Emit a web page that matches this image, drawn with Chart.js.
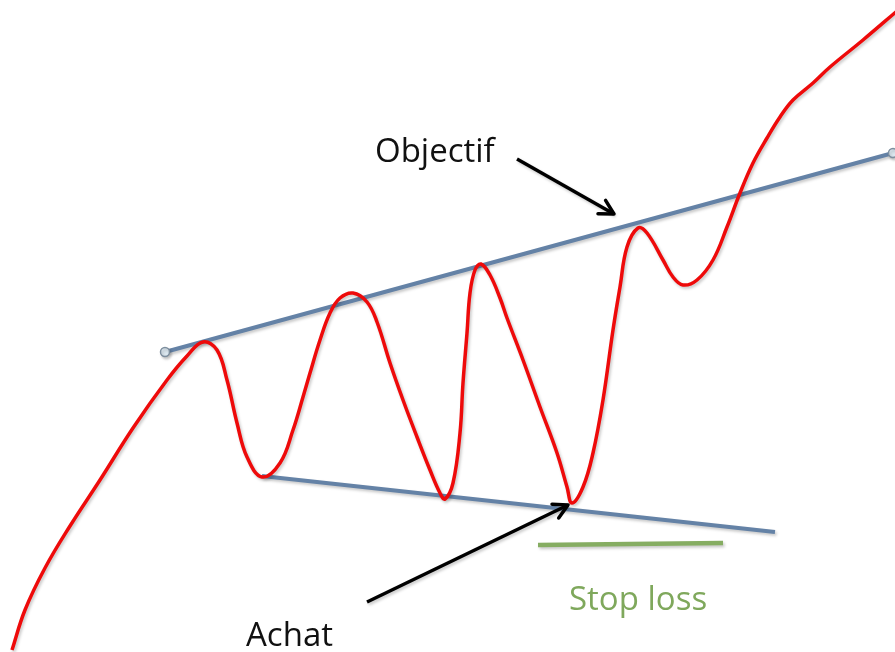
<!DOCTYPE html>
<html>
<head>
<meta charset="utf-8">
<script src="https://cdn.jsdelivr.net/npm/chart.js@4/dist/chart.umd.min.js"></script>
<style>
  html, body { margin: 0; padding: 0; background: #fff; }
  #wrap { width: 895px; height: 652px; position: relative; }
</style>
</head>
<body>
<div id="wrap"><canvas id="chart"></canvas></div>
<script>
// Price path (x = time, y = price)
const priceX = [12, 25, 45, 70, 100, 133, 167, 187, 203, 217, 227, 237, 247, 262, 280, 293, 303, 310, 320, 330,
                340, 353, 367, 377, 390, 403, 417, 430, 440, 445, 453, 460, 463, 467, 470, 475, 481, 490, 500, 507,
                523, 540, 557, 567, 572, 583, 593, 603, 613, 620, 627, 638, 647, 663, 673, 683, 697, 713, 727, 740,
                753, 767, 780, 793, 813, 830, 863, 897];
const priceY = [2, 42, 84, 126, 172, 224, 272, 296, 310, 302, 272, 229, 195, 175, 189, 222, 255, 279, 312, 339,
                354, 359, 350, 330, 289, 252, 215, 182, 159, 153, 169, 219, 269, 319, 359, 382, 388, 377, 354, 334,
                292, 245, 199, 165, 149, 165, 199, 252, 322, 365, 405, 424, 419, 392, 375, 367, 372, 392, 425, 459,
                489, 514, 535, 552, 569, 585, 612, 641];

// Trend lines
const upperX = [165, 893];
const upperY = [300, 499];
const lowerX = [262, 775];
const lowerY = [176, 120];
const stopX = [538, 723];
const stopY = [107, 109];

// Arrows [from, to]
const objArrowX = [517, 614];
const objArrowY = [493, 438];
const buyArrowX = [367, 568];
const buyArrowY = [50, 147];

// Labels
const labelText = ['Objectif', 'Achat', 'Stop loss'];
const labelX = [375, 246, 569];
const labelY = [490, 6, 42];
const labelColor = ['#111111', '#111111', '#7fa85c'];

const toPoints = (xs, ys) => xs.map((x, i) => ({ x: x, y: ys[i] }));

const lineShadow = {
    id: 'lineShadow',
    beforeDatasetDraw(chart, args) {
        const ctx = chart.ctx;
        ctx.save();
        ctx.shadowColor = 'rgba(0,0,0,0.22)';
        ctx.shadowBlur = 3;
        ctx.shadowOffsetX = 1.5;
        ctx.shadowOffsetY = 2;
    },
    afterDatasetDraw(chart) {
        chart.ctx.restore();
    }
};

const arrowsAndText = {
    id: 'arrowsAndText',
    afterDatasetsDraw(chart) {
        const ctx = chart.ctx;
        const xs = chart.scales.x, ys = chart.scales.y;
        const heads = [[objArrowX, objArrowY], [buyArrowX, buyArrowY]];
        ctx.save();
        ctx.strokeStyle = '#000';
        ctx.lineWidth = 3.5;
        ctx.lineCap = 'round';
        ctx.lineJoin = 'round';
        heads.forEach(([ax, ay]) => {
            const x0 = xs.getPixelForValue(ax[0]), y0 = ys.getPixelForValue(ay[0]);
            const x1 = xs.getPixelForValue(ax[1]), y1 = ys.getPixelForValue(ay[1]);
            const ang = Math.atan2(y1 - y0, x1 - x0);
            const len = 16, spread = 0.5;
            ctx.beginPath();
            ctx.moveTo(x1 - len * Math.cos(ang - spread), y1 - len * Math.sin(ang - spread));
            ctx.lineTo(x1, y1);
            ctx.lineTo(x1 - len * Math.cos(ang + spread), y1 - len * Math.sin(ang + spread));
            ctx.stroke();
        });

        ctx.font = '33px "Open Sans", sans-serif';
        ctx.textAlign = 'left';
        ctx.textBaseline = 'alphabetic';
        labelText.forEach((t, i) => {
            ctx.fillStyle = labelColor[i];
            ctx.fillText(t, xs.getPixelForValue(labelX[i]), ys.getPixelForValue(labelY[i]));
        });
        ctx.restore();
    }
};

new Chart(document.getElementById('chart'), {
    type: 'line',
    data: {
        datasets: [
            {
                data: toPoints(objArrowX, objArrowY),
                borderColor: '#000', borderWidth: 3.5, pointRadius: 0, order: 0
            },
            {
                data: toPoints(buyArrowX, buyArrowY),
                borderColor: '#000', borderWidth: 3.5, pointRadius: 0, order: 0
            },
            {
                data: toPoints(priceX, priceY),
                borderColor: '#ee0a0a', borderWidth: 3.5, pointRadius: 0,
                tension: 0.4, order: 1
            },
            {
                data: toPoints(upperX, upperY),
                borderColor: '#6482a6', borderWidth: 4,
                pointRadius: 4.5, pointBackgroundColor: '#dce8f0',
                pointBorderColor: '#7d8e9e', pointBorderWidth: 1.5, order: 2
            },
            {
                data: toPoints(lowerX, lowerY),
                borderColor: '#6482a6', borderWidth: 4, pointRadius: 0, order: 2
            },
            {
                data: toPoints(stopX, stopY),
                borderColor: '#86ad62', borderWidth: 4.5, pointRadius: 0, order: 3
            }
        ]
    },
    options: {
        responsive: true,
        maintainAspectRatio: false,
        animation: false,
        layout: { padding: 0, autoPadding: false },
        plugins: { legend: { display: false }, tooltip: { enabled: false } },
        elements: { line: { borderCapStyle: 'butt' } },
        scales: {
            x: { type: 'linear', min: 0, max: 895, display: false },
            y: { type: 'linear', min: 0, max: 652, display: false }
        }
    },
    plugins: [lineShadow, arrowsAndText]
});
</script>
</body>
</html>
